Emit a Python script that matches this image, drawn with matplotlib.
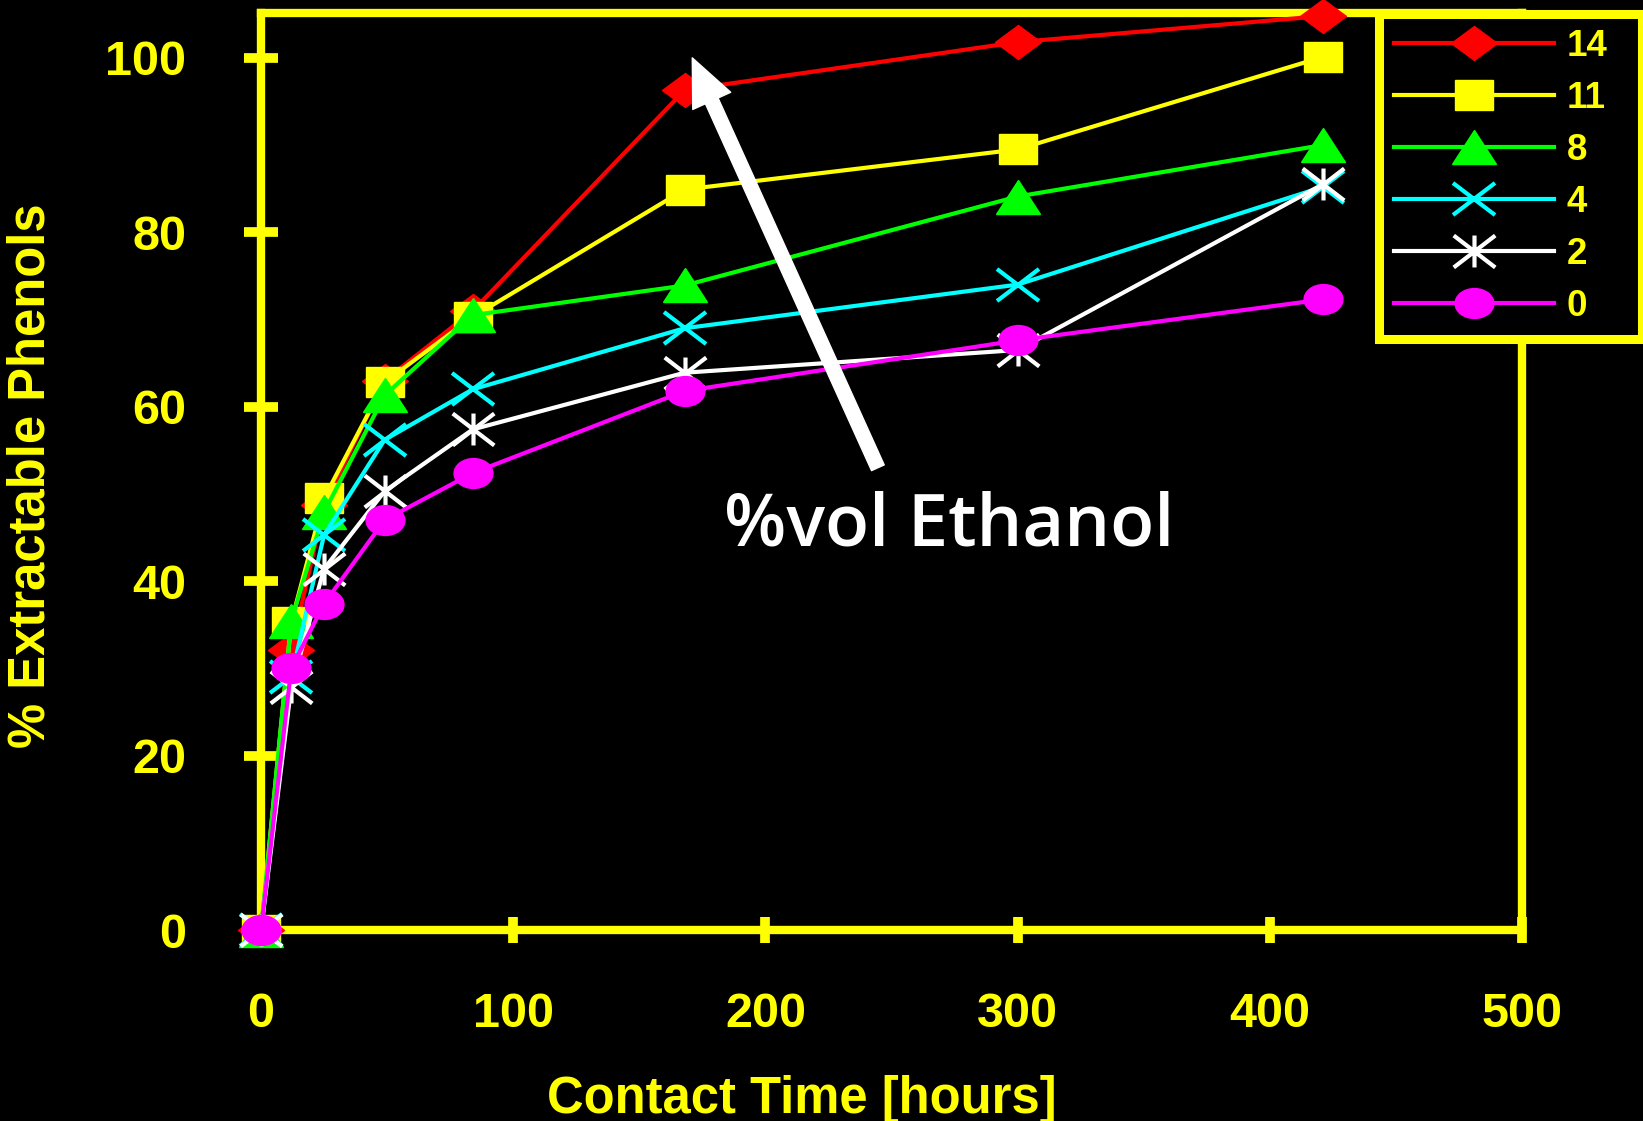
import matplotlib
matplotlib.use("Agg")
import matplotlib.pyplot as plt
from matplotlib.markers import MarkerStyle
from matplotlib.path import Path
from matplotlib.transforms import Affine2D

# ---- data ----
hours = [0, 12, 25, 49, 84, 168, 300, 421]
ethanol_labels = ["14", "11", "8", "4", "2", "0"]
eth14 = [0, 32.1, 48.7, 63.0, 71.0, 96.3, 101.8, 104.8]
eth11 = [0, 35.3, 49.5, 62.8, 70.3, 84.9, 89.5, 100.1]
eth8 = [0, 35.4, 47.9, 61.3, 70.5, 73.9, 84.1, 90.0]
eth4 = [0, 29.0, 45.3, 56.2, 62.0, 69.0, 74.0, 85.2]
eth2 = [0, 27.9, 41.4, 50.3, 57.4, 63.9, 66.5, 85.5]
eth0 = [0, 30.0, 37.4, 47.0, 52.4, 61.8, 67.6, 72.3]
x_ticks = [0, 100, 200, 300, 400, 500]
y_ticks = [0, 20, 40, 60, 80, 100]
annot_text = "%vol Ethanol"
arrow_tip = (171, 100.0)
arrow_tail = (244.6, 53.0)
annot_pos = (273, 46.3)

YEL = "#FFFF00"
W, H, DPI = 1643, 1121, 100

fig = plt.figure(figsize=(W / DPI, H / DPI), dpi=DPI, facecolor="black")
ax = fig.add_axes([261 / W, 1 - 930 / H, (1522 - 261) / W, (930 - 12.5) / H])
ax.set_facecolor("black")

stretch = Affine2D().scale(1.3, 1.0)
star_path = Path([(0, -1), (0, 1), (-1, -1), (1, 1), (-1, 1), (1, -1)],
                 [Path.MOVETO, Path.LINETO, Path.MOVETO, Path.LINETO,
                  Path.MOVETO, Path.LINETO])

series = [
    (eth14, "#FF0000", MarkerStyle("D", transform=stretch), 17.8, True),
    (eth11, YEL, MarkerStyle("s", transform=stretch), 21.5, True),
    (eth8, "#00FF00", MarkerStyle("^", transform=stretch), 24.5, True),
    (eth4, "#00FFFF", MarkerStyle("x", transform=stretch), 23.5, False),
    (eth2, "#FFFFFF", MarkerStyle(star_path, transform=stretch), 23.0, False),
    (eth0, "#FF00FF", MarkerStyle("o", transform=stretch), 21.5, True),
]

for (vals, col, mk, ms, filled), lab in zip(series, ethanol_labels):
    if filled:
        ax.plot(hours, vals, color=col, lw=3, marker=mk, ms=ms, mfc=col,
                mec=col, mew=1, label=lab, clip_on=False, zorder=3)
    else:
        ax.plot(hours, vals, color=col, lw=3, marker=mk, ms=ms, mfc="none",
                mec=col, mew=3, label=lab, clip_on=False, zorder=3)

ax.set_xlim(0, 500)
ax.set_ylim(0, 105.2)
ax.set_xticks(x_ticks)
ax.set_yticks(y_ticks)

for s in ax.spines.values():
    s.set_color(YEL)
    s.set_linewidth(6)

ax.tick_params(axis="x", direction="inout", length=19, width=7, color=YEL,
               labelcolor=YEL, pad=35)
ax.tick_params(axis="y", direction="inout", length=24, width=7, color=YEL,
               labelcolor=YEL, pad=42)
for t in ax.get_xticklabels() + ax.get_yticklabels():
    t.set_fontfamily("Liberation Sans")
    t.set_fontweight("bold")
    t.set_fontsize(35)

ax.set_xlabel("Contact Time [hours]", color=YEL, fontsize=36.5,
              fontweight="bold", family="Liberation Sans", va="center")
ax.xaxis.set_label_coords(0.429, -0.185)
ax.set_ylabel("% Extractable Phenols", color=YEL, fontsize=36.5,
              fontweight="bold", family="Liberation Sans", va="center")
ax.yaxis.set_label_coords(-0.1824, 0.495)

ax.annotate("", xy=arrow_tip, xytext=arrow_tail,
            arrowprops=dict(arrowstyle="simple,head_length=34,head_width=30,tail_width=10",
                            mutation_scale=1, color="white", shrinkA=0, shrinkB=0),
            zorder=4)
ax.text(annot_pos[0], annot_pos[1], annot_text, color="white", fontsize=52,
        family="Open Sans", fontweight="semibold", ha="center", va="center",
        zorder=4)

leg = ax.legend(loc="upper left",
                bbox_to_anchor=(1379 / W, 1 - 14 / H, (1642 - 1379) / W, 0),
                bbox_transform=fig.transFigure, mode="expand",
                borderaxespad=0, frameon=True,
                fancybox=False, facecolor="black", edgecolor=YEL,
                framealpha=1, numpoints=1, handlelength=4.35,
                handletextpad=0.35, labelspacing=0.465, borderpad=0.4,
                prop=dict(family="Liberation Sans", weight="bold", size=26.5))
leg.get_frame().set_linewidth(6.5)
leg.set_zorder(6)
for t in leg.get_texts():
    t.set_color(YEL)

fig.savefig("out.png", dpi=DPI, facecolor="black")
